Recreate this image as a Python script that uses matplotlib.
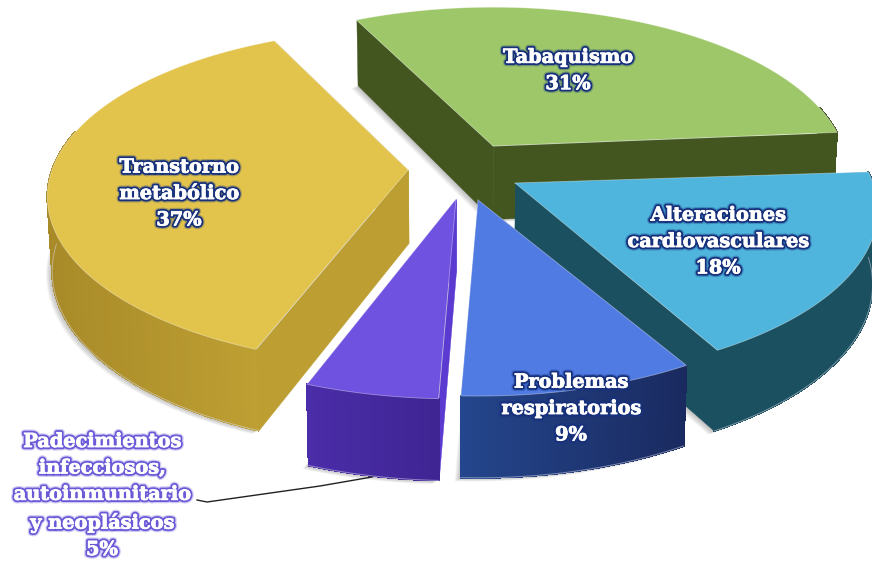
import numpy as np
import matplotlib
matplotlib.use('Agg')
import matplotlib.pyplot as plt
import matplotlib.patheffects as pe
from matplotlib.collections import PolyCollection
from matplotlib.colors import to_rgb

# datos del grafico
categorias = ['Tabaquismo', 'Alteraciones\ncardiovasculares', 'Problemas\nrespiratorios',
              'Padecimientos\ninfecciosos,\nautoinmunitario\ny neoplásicos', 'Transtorno\nmetabólico']
porcentajes = [31, 18, 9, 5, 37]

# estilo de cada porcion (vertice en pixeles, radio, giro en grados, colores)
vertices = [(493, 146), (515, 183), (478, 200), (456, 199), (408, 170)]
radios = [350, 358, 358, 365, 356]
giros = [1, 0, 1, 1, 0]
color_tapa = ['#9DC768', '#4FB5DC', '#4F7BE3', '#6F52E0', '#E2C44C']
color_pared_a = ['#43561F', '#1B5060', '#24468C', '#4A2DA8', '#A88A28']
color_pared_b = ['#43561F', '#1B5060', '#1A2A60', '#3D2390', '#CDAE3C']
color_radial = ['#43561F', '#1B5060', '#24468C', '#5A3AD0', '#BC9E32']
centros_texto = [(568, 71), (718, 242), (571, 409), (102, 496), (179, 194)]
orden_dibujo = [0, 4, 1, 3, 2]

ANGULO_INICIO = 115.5
ACHATADO = 0.46
PERSPECTIVA = 0.16
GROSOR = 73


def punto(vertice, radio, t, r=1.0):
    u = r * np.cos(t)
    v = r * np.sin(t)
    w = 1 + PERSPECTIVA * v
    return vertice[0] + radio * u / w, vertice[1] - radio * ACHATADO * v / w


def abajo(vertice, radio, t, r=1.0):
    x, y = punto(vertice, radio, t, r)
    return 450 + (x - 450) * 0.988, y + GROSOR * (1 - 0.12 * r * np.sin(t))


def mezcla(c1, c2, f):
    a, b = np.array(to_rgb(c1)), np.array(to_rgb(c2))
    return tuple(a + (b - a) * f)


def dibujar_porcion(ax, i, t1, t2, z):
    v0, R = vertices[i], radios[i]
    ts = np.linspace(t1, t2, 120)
    tapa = [v0] + [punto(v0, R, t) for t in ts]
    base = [abajo(v0, R, 0, 0)] + [abajo(v0, R, t) for t in ts]

    # sombra
    silueta = np.array(tapa + base)
    for d in range(1, 7):
        s = np.array(base) + [-d, d * 0.6]
        ax.fill(s[:, 0], s[:, 1], color='#555555', alpha=0.07, lw=0, zorder=z)

    # paredes radiales
    for t in (t1, t2):
        muro = [v0, punto(v0, R, t), abajo(v0, R, t), abajo(v0, R, 0, 0)]
        ax.add_collection(PolyCollection([muro], facecolors=color_radial[i], edgecolors=color_radial[i],
                                         lw=0.3, zorder=z + 0.1))

    # pared exterior con degradado, solo la parte que mira al frente
    frente = ts[np.sin(ts) < 0.25]
    quads, cols = [], []
    for j in range(len(frente) - 1):
        quads.append([punto(v0, R, frente[j]), punto(v0, R, frente[j + 1]),
                      abajo(v0, R, frente[j + 1]), abajo(v0, R, frente[j])])
        # de izquierda a derecha en pantalla
        f = (quads[-1][0][0] - min(silueta[:, 0])) / (np.ptp(silueta[:, 0]) + 1)
        cols.append(mezcla(color_pared_a[i], color_pared_b[i], f))
    if quads:
        ax.add_collection(PolyCollection(quads, facecolors=cols, edgecolors=cols, lw=0.8, antialiaseds=False,
                                         zorder=z + 0.2))
    abajo_frente = frente[np.sin(frente) < 0]
    if len(abajo_frente) > 1:
        arco = np.array([abajo(v0, R, t) for t in abajo_frente])
        ax.plot(arco[:, 0], arco[:, 1], color='#DDDDEE', alpha=0.5, lw=0.7, zorder=z + 0.3)

    tapa = np.array(tapa)
    ax.fill(tapa[:, 0], tapa[:, 1], color=color_tapa[i], lw=0, zorder=z + 0.4)
    ax.plot(np.r_[tapa[:, 0], tapa[0, 0]], np.r_[tapa[:, 1], tapa[0, 1]], color='white', alpha=0.4, lw=0.6,
            zorder=z + 0.5)


fig = plt.figure(figsize=(8.72, 5.63), dpi=100)
ax = fig.add_axes([0, 0, 1, 1])
ax.set_xlim(0, 872)
ax.set_ylim(563, 0)
ax.axis('off')

# angulos a partir de los porcentajes, en sentido horario
acum = np.r_[0, np.cumsum(porcentajes)] / sum(porcentajes) * 2 * np.pi
for z, i in enumerate(orden_dibujo):
    inicio = np.deg2rad(ANGULO_INICIO + giros[i])
    dibujar_porcion(ax, i, inicio - acum[i], inicio - acum[i + 1], z + 1)

ax.plot([197, 207, 320, 372], [500, 502, 486, 477], color='#222222', lw=1, zorder=8)

for i, etiqueta in enumerate(categorias):
    borde = '#6A5AD8' if i == 3 else '#16307C'
    x, y = centros_texto[i]
    ax.text(x, y, f'{etiqueta}\n{porcentajes[i]}%', ha='center', va='center', ma='center',
            family='DejaVu Serif', weight='bold', fontsize=13.9, color='white', linespacing=1.6, zorder=9,
            path_effects=[pe.Stroke(linewidth=5, foreground=borde, alpha=0.3),
                          pe.Stroke(linewidth=3.2, foreground=borde),
                          pe.Stroke(linewidth=0.6, foreground='white'),
                          pe.Normal()])

fig.savefig('out.png', dpi=100)
